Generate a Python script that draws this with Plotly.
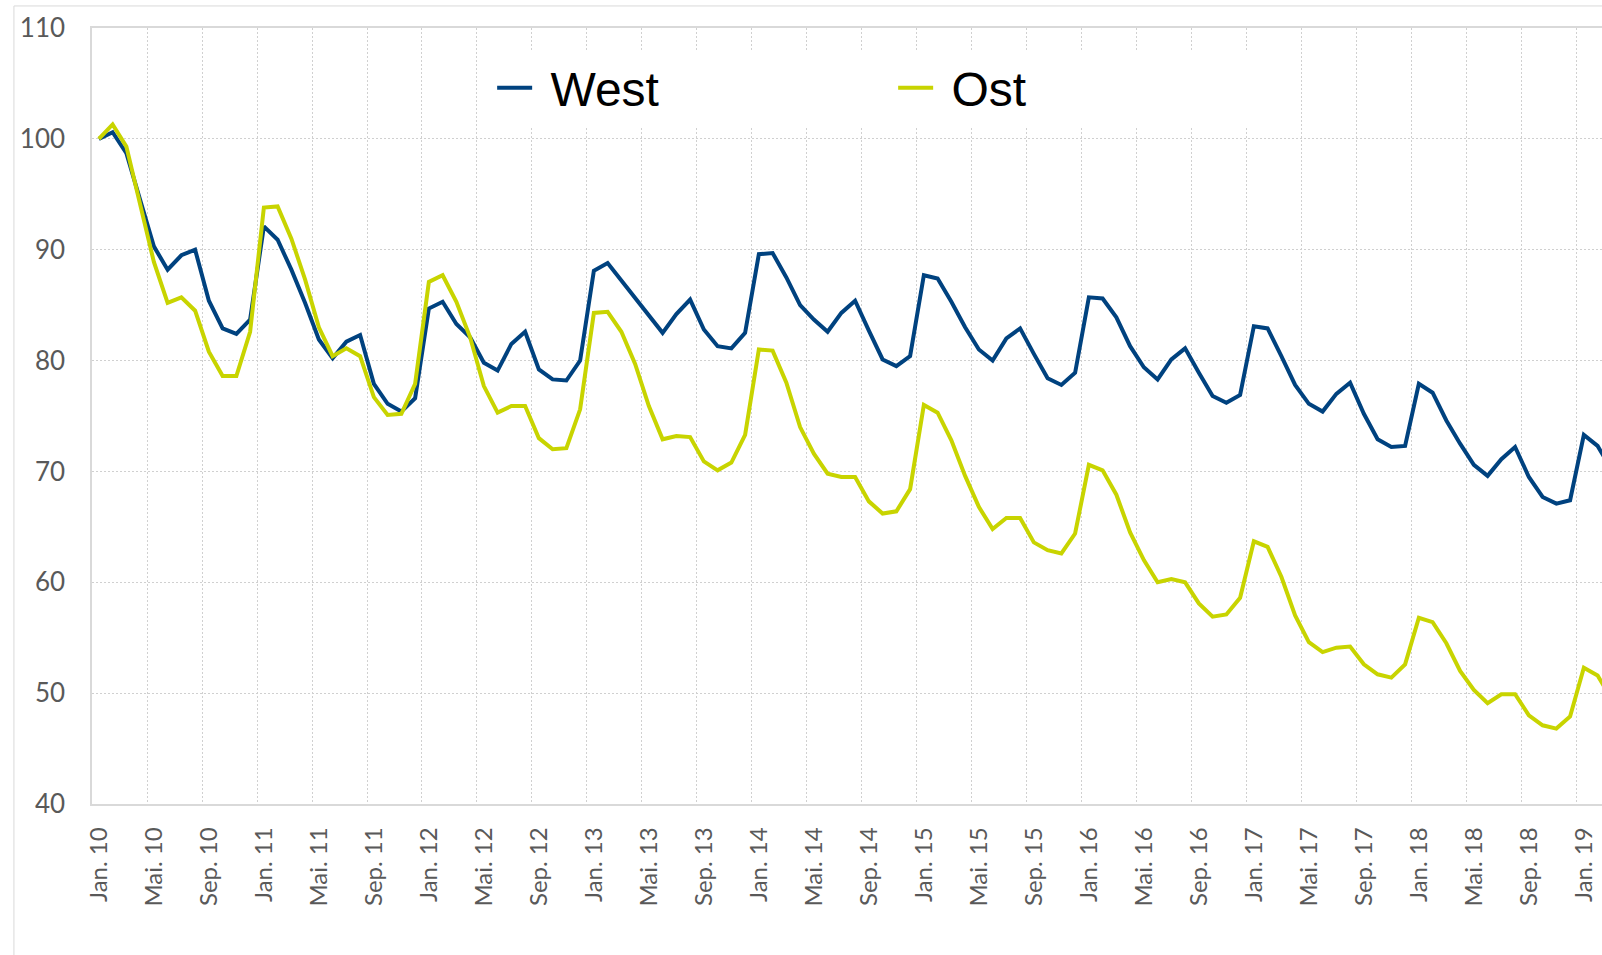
import plotly.graph_objects as go

# Monatsachse Jan. 10 bis Mär. 19
monate = ["Jan.", "Feb.", "Mär.", "Apr.", "Mai.", "Jun.",
          "Jul.", "Aug.", "Sep.", "Okt.", "Nov.", "Dez."]
jahre = ["10", "11", "12", "13", "14", "15", "16", "17", "18", "19"]
kategorien = [f"{m} {j}" for j in jahre for m in monate][:111]

west = [
    100.0, 100.6, 98.7, 94.6, 90.3, 88.2, 89.5, 90.0, 85.4, 82.9, 82.4, 83.7,
    92.1, 90.9, 88.2, 85.2, 81.9, 80.2, 81.7, 82.3, 77.9, 76.1, 75.4, 76.6,
    84.7, 85.3, 83.3, 82.1, 79.8, 79.1, 81.5, 82.6, 79.2, 78.3, 78.2, 80.0,
    88.1, 88.8, 87.2, 85.6, 84.0, 82.5, 84.2, 85.5, 82.8, 81.3, 81.1, 82.5,
    89.6, 89.7, 87.5, 85.0, 83.7, 82.6, 84.3, 85.4, 82.7, 80.1, 79.5, 80.4,
    87.7, 87.4, 85.3, 83.0, 81.0, 80.0, 82.0, 82.9, 80.6, 78.4, 77.8, 78.9,
    85.7, 85.6, 83.9, 81.3, 79.4, 78.3, 80.1, 81.1, 78.9, 76.8, 76.2, 76.9,
    83.1, 82.9, 80.4, 77.8, 76.1, 75.4, 77.0, 78.0, 75.2, 72.9, 72.2, 72.3,
    77.9, 77.1, 74.6, 72.5, 70.6, 69.6, 71.1, 72.2, 69.5, 67.7, 67.1, 67.4,
    73.3, 72.3, 70.2,
]

ost = [
    100.0, 101.3, 99.3, 94.0, 88.9, 85.2, 85.7, 84.5, 80.8, 78.6, 78.6, 82.6,
    93.8, 93.9, 91.0, 87.3, 83.0, 80.4, 81.1, 80.4, 76.7, 75.1, 75.2, 77.9,
    87.1, 87.7, 85.3, 82.1, 77.7, 75.3, 75.9, 75.9, 73.0, 72.0, 72.1, 75.6,
    84.3, 84.4, 82.6, 79.7, 75.9, 72.9, 73.2, 73.1, 70.9, 70.1, 70.8, 73.3,
    81.0, 80.9, 78.0, 74.0, 71.6, 69.8, 69.5, 69.5, 67.3, 66.2, 66.4, 68.4,
    76.0, 75.3, 72.8, 69.6, 66.8, 64.8, 65.8, 65.8, 63.6, 62.9, 62.6, 64.4,
    70.6, 70.1, 67.9, 64.5, 62.0, 60.0, 60.3, 60.0, 58.1, 56.9, 57.1, 58.6,
    63.7, 63.2, 60.5, 57.0, 54.6, 53.7, 54.1, 54.2, 52.6, 51.7, 51.4, 52.6,
    56.8, 56.4, 54.5, 52.0, 50.3, 49.1, 49.9, 49.9, 48.0, 47.1, 46.8, 47.9,
    52.3, 51.6, 49.5,
]

fig = go.Figure()

# \u00a0 = Abstand zwischen Legendensymbol und Text wie im Original
fig.add_trace(go.Scatter(
    x=kategorien, y=west, name="\u00a0West", mode="lines",
    line=dict(color="#00427f", width=4),
))
fig.add_trace(go.Scatter(
    x=kategorien, y=ost, name="\u00a0Ost", mode="lines",
    line=dict(color="#c8d400", width=4),
))

schrift = "Lato, Noto Sans, sans-serif"

fig.update_layout(
    width=1602, height=955,
    margin=dict(l=92, r=0, t=28, b=151),
    paper_bgcolor="white", plot_bgcolor="white",
    showlegend=True,
    legend=dict(
        orientation="h",
        x=0.265, y=0.9716, xanchor="left", yanchor="top",
        bgcolor="white",
        font=dict(family="Liberation Sans, Arial, sans-serif", size=48, color="black"),
        itemwidth=35,
        entrywidth=351,
    ),
    # Rahmen um den gesamten Diagrammbereich (rechts/unten abgeschnitten)
    shapes=[dict(
        type="rect", xref="paper", yref="paper",
        x0=-0.0517, x1=1.2, y0=-0.3, y1=1.0284,
        line=dict(color="#d9d9d9", width=1), layer="below",
    )],
)

fig.update_xaxes(
    type="category",
    range=[-0.5, 109.32],
    tickmode="linear", tick0=0, dtick=4,
    tickson="boundaries",
    ticks="", tickangle=-90,
    ticklabelstandoff=12,
    tickfont=dict(family=schrift, size=24, color="#595959"),
    showgrid=True, gridcolor="#d0d0d0", gridwidth=1, griddash="2px,2px",
    showline=True, linecolor="#d9d9d9", linewidth=1.5, mirror=True,
    zeroline=False,
)

fig.update_yaxes(
    range=[40, 110], dtick=10,
    ticks="", ticklabelstandoff=20,
    tickfont=dict(family=schrift, size=26, color="#595959"),
    showgrid=True, gridcolor="#d0d0d0", gridwidth=1, griddash="2px,2px",
    showline=True, linecolor="#d9d9d9", linewidth=1.5,
    zeroline=False,
)

fig.write_html(
    "out.html",
    config={"displayModeBar": False},
    post_script="document.body.style.margin='0';document.body.style.overflow='hidden';",
)
